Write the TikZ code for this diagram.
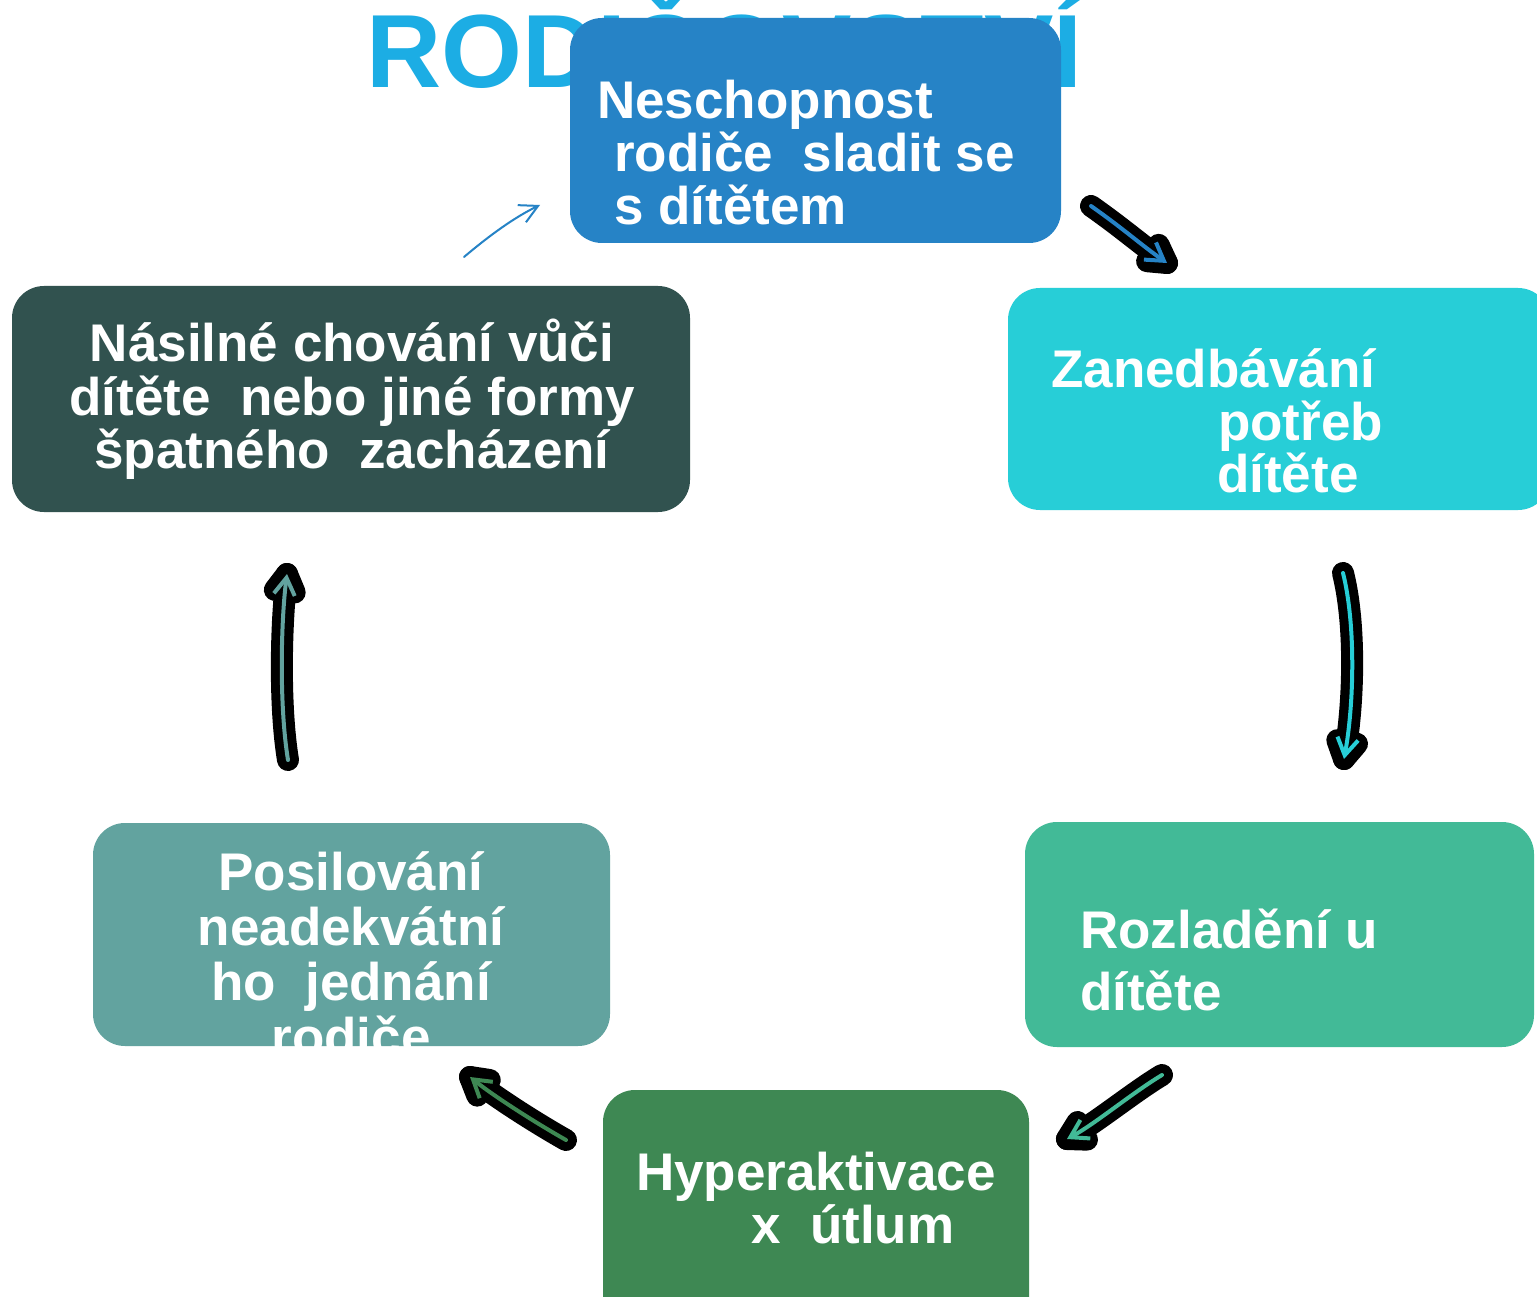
\documentclass[tikz,border=0pt]{standalone}
\usepackage{fontspec}
\setmainfont{Liberation Sans}
\usetikzlibrary{arrows.meta,calc}
\definecolor{cTitle}{HTML}{1CADE4}
\definecolor{cA}{HTML}{2683C6}
\definecolor{cB}{HTML}{27CED7}
\definecolor{cC}{HTML}{42BA97}
\definecolor{cD}{HTML}{3E8853}
\definecolor{cE}{HTML}{62A39F}
\definecolor{cF}{HTML}{31524F}
\begin{document}
\begin{tikzpicture}[x=1pt,y=-1pt,
  box/.style={rectangle, rounded corners=32pt, draw=none, inner sep=0pt},
  txt/.style={text=white, font=\fontsize{53}{54}\selectfont\bfseries, inner sep=0pt, anchor=base west},
  ctxt/.style={txt, anchor=base},
  outl/.style={black, line width=22pt, line cap=round, line join=round},
  arr/.style={line width=4pt, line cap=round, -{Straight Barb[length=17pt,width=21pt]}},
  thin/.style={line width=2pt, line cap=round, -{Straight Barb[length=18pt,width=19pt]}}
]
\clip (0,0) rectangle (1537,1297);
\fill[white] (0,0) rectangle (1537,1297);

% title
\node[text=cTitle, font=\fontsize{104}{110}\selectfont\bfseries, inner sep=0pt, anchor=base west] (title) at (366,88) {RODIČOVSTVÍ};

% boxes
\node[box, fill=cA, minimum width=491pt, minimum height=225pt] (n1) at (815.5,130.5) {};
\node[box, fill=cB, minimum width=542pt, minimum height=222pt] (n2) at (1279,399) {};
\node[box, fill=cC, minimum width=509pt, minimum height=225pt] (n3) at (1279.5,934.5) {};
\node[box, fill=cD, minimum width=426pt, minimum height=240pt] (n4) at (816,1210) {};
\node[box, fill=cE, minimum width=517pt, minimum height=223pt] (n5) at (351.5,934.5) {};
\node[box, fill=cF, minimum width=678pt, minimum height=226pt] (n6) at (351,399) {};

% texts
\node[txt] (t1a) at (597,119) {Neschopnost};
\node[txt] (t1b) at (614,172) {rodiče\ \ sladit se};
\node[txt] (t1c) at (614,225) {s dítětem};

\node[txt] (t2a) at (1051,387) {Zanedbávání};
\node[txt] (t2b) at (1218,440) {potřeb};
\node[txt] (t2c) at (1217,492) {dítěte};

\node[txt] (t3a) at (1080,948) {Rozladění u};
\node[txt] (t3b) at (1080,1010) {dítěte};

\node[txt] (t4a) at (636,1190) {Hyperaktivace};
\node[txt] (t4b) at (751,1243) {x\ \ útlum};

\begin{scope}
  \clip[rounded corners=32pt] (n5.south west) rectangle (n5.north east);
  \node[ctxt] (t5a) at (351,890) {Posilování};
  \node[ctxt] (t5b) at (351,945) {neadekvátní};
  \node[ctxt] (t5c) at (351,1000) {ho\ \ jednání};
  \node[ctxt] (t5d) at (351,1055) {rodiče};
\end{scope}

\node[ctxt] (t6a) at (352,362) {Násilné chování vůči};
\node[ctxt] (t6b) at (352,415) {dítěte\ \ nebo jiné formy};
\node[ctxt] (t6c) at (352,468) {špatného\ \ zacházení};

% arrow coordinates
\coordinate (a1s) at (1091,206); \coordinate (a1c) at (1125,230); \coordinate (a1d) at (1140,244); \coordinate (a1e) at (1167,263);
\coordinate (a2s) at (1343,573); \coordinate (a2c) at (1356,625); \coordinate (a2d) at (1354,705); \coordinate (a2e) at (1344,759);
\coordinate (a3s) at (1162,1075); \coordinate (a3c) at (1132,1093); \coordinate (a3d) at (1095,1124); \coordinate (a3e) at (1067,1139);
\coordinate (a4s) at (566,1140); \coordinate (a4c) at (536,1123); \coordinate (a4d) at (495,1097); \coordinate (a4e) at (470,1077);
\coordinate (a5s) at (288,760); \coordinate (a5c) at (279,705); \coordinate (a5d) at (281,620); \coordinate (a5e) at (287,574);
\coordinate (a6s) at (464,257); \coordinate (a6c) at (490,235); \coordinate (a6d) at (515,217); \coordinate (a6e) at (540,205);

% black outlines
\foreach \i in {1,...,5}{
  \draw[outl] (a\i s) .. controls (a\i c) and (a\i d) .. (a\i e);
  \draw[outl] ($(a\i e)!20pt!30:(a\i d)$) -- (a\i e) -- ($(a\i e)!20pt!-30:(a\i d)$);
}

% coloured arrows
\draw[arr, cA] (a1s) .. controls (a1c) and (a1d) .. (a1e);
\draw[arr, cB] (a2s) .. controls (a2c) and (a2d) .. (a2e);
\draw[arr, cC] (a3s) .. controls (a3c) and (a3d) .. (a3e);
\draw[arr, cD] (a4s) .. controls (a4c) and (a4d) .. (a4e);
\draw[arr, cE] (a5s) .. controls (a5c) and (a5d) .. (a5e);
\draw[thin, cA] (a6s) .. controls (a6c) and (a6d) .. (a6e);
\end{tikzpicture}
\end{document}
